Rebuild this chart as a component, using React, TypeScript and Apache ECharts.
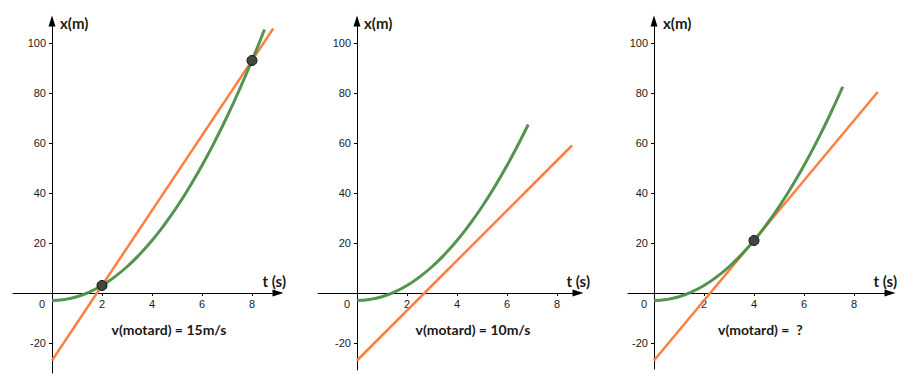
import React, { useEffect, useRef } from 'react';
import * as echarts from 'echarts';

// ---- data ----
const panelTitles = ['v(motard) = 15m/s', 'v(motard) = 10m/s', 'v(motard) =  ?'];
const xTickValues = [0, 2, 4, 6, 8];
const xTickMarks = [2, 4, 6, 8];
const yTickValues = [-20, 20, 40, 60, 80, 100];
const xAxisName = 't (s)';
const yAxisName = 'x(m)';

// green curve (car), t (s) -> x (m)
const carCurve1: number[][] = [
  [0, -3], [0.5, -2.6], [1, -1.5], [1.5, 0.4], [2, 3], [2.5, 6.4], [3, 10.5], [3.5, 15.4],
  [4, 21], [4.5, 27.4], [5, 34.5], [5.5, 42.4], [6, 51], [6.5, 60.4], [7, 70.5], [7.5, 81.4],
  [8, 93], [8.5, 105.4],
];
const carCurve2: number[][] = [
  [0, -3], [0.5, -2.6], [1, -1.5], [1.5, 0.4], [2, 3], [2.5, 6.4], [3, 10.5], [3.5, 15.4],
  [4, 21], [4.5, 27.4], [5, 34.5], [5.5, 42.4], [6, 51], [6.5, 60.4], [6.85, 67.4],
];
const carCurve3: number[][] = [
  [0, -3], [0.5, -2.6], [1, -1.5], [1.5, 0.4], [2, 3], [2.5, 6.4], [3, 10.5], [3.5, 15.4],
  [4, 21], [4.5, 27.4], [5, 34.5], [5.5, 42.4], [6, 51], [6.5, 60.4], [7, 70.5], [7.55, 82.5],
];
// orange line (motard)
const motoLine1: number[][] = [[0, -27], [8.85, 105.8]];
const motoLine2: number[][] = [[0, -27], [8.6, 59]];
const motoLine3: number[][] = [[0, -27], [8.95, 80.4]];
// marked points
const meetPoints1: number[][] = [[2, 3], [8, 93]];
const meetPoints2: number[][] = [];
const meetPoints3: number[][] = [[4, 21]];

// ---- layout ----
const grids = [
  { left: 13, top: 21, width: 265, height: 352 },
  { left: 318, top: 21, width: 260, height: 349 },
  { left: 628, top: 21, width: 262, height: 348 },
];
const xRanges = [[-1.56, 9.04], [-1.56, 8.84], [-1.04, 9.44]];
const yRanges = [[-32, 108.8], [-30.8, 108.8], [-30.4, 108.8]];
const xAxisOffsets = [-80, -77, -76];
const yAxisOffsets = [-39, -39, -26];
const xNameGaps = [8, 12, 7];
const yNamePads = [8, 7, 9];
const titlePos = [
  { x: 169, y: 329, align: 'center' },
  { x: 473, y: 329, align: 'center' },
  { x: 718, y: 329, align: 'left' },
];

const GREEN = '#4a8f45';
const ORANGE = '#ff7f40';
const TICK_FONT = '"Liberation Sans", Arial, sans-serif';
const BOLD_FONT = 'Lato, "Liberation Sans", Arial, sans-serif';

export default function App() {
  const ref = useRef<HTMLDivElement>(null);
  useEffect(() => {
    if (!ref.current) return;
    const chart = echarts.init(ref.current, undefined, { renderer: 'svg' });
    const cars = [carCurve1, carCurve2, carCurve3];
    const motos = [motoLine1, motoLine2, motoLine3];
    const meets = [meetPoints1, meetPoints2, meetPoints3];

    const xAxis = grids.map((_, i) => ({
      type: 'value',
      gridIndex: i,
      position: 'bottom',
      offset: xAxisOffsets[i],
      min: xRanges[i][0],
      max: xRanges[i][1],
      axisLine: {
        show: true,
        onZero: false,
        symbol: ['none', 'triangle'],
        symbolSize: [7, 11],
        lineStyle: { color: '#000', width: 1 },
      },
      axisTick: { show: true, length: 3, customValues: xTickMarks, lineStyle: { color: '#000' } },
      axisLabel: {
        customValues: xTickValues,
        margin: 5,
        fontSize: 11,
        color: '#1a1a1a',
        fontFamily: TICK_FONT,
        formatter: (v: number) => (v === 0 ? '{z|0}' : String(v)),
        rich: { z: { padding: [0, 20, 0, 0], fontSize: 11, color: '#1a1a1a', fontFamily: TICK_FONT } },
      },
      splitLine: { show: false },
      name: xAxisName,
      nameLocation: 'end',
      nameGap: xNameGaps[i],
      nameTextStyle: {
        align: 'right',
        verticalAlign: 'bottom',
        padding: [0, 0, 5, 0],
        fontWeight: 'bold',
        fontSize: 15,
        color: '#1a1a1a',
        fontFamily: BOLD_FONT,
      },
    }));

    const yAxis = grids.map((_, i) => ({
      type: 'value',
      gridIndex: i,
      position: 'left',
      offset: yAxisOffsets[i],
      min: yRanges[i][0],
      max: yRanges[i][1],
      axisLine: {
        show: true,
        onZero: false,
        symbol: ['none', 'triangle'],
        symbolSize: [7, 11],
        lineStyle: { color: '#000', width: 1 },
      },
      axisTick: { show: true, length: 3, customValues: yTickValues, lineStyle: { color: '#000' } },
      axisLabel: {
        customValues: yTickValues,
        margin: 6,
        fontSize: 11,
        color: '#1a1a1a',
        fontFamily: TICK_FONT,
      },
      splitLine: { show: false },
      name: yAxisName,
      nameLocation: 'end',
      nameGap: -2,
      nameTextStyle: {
        align: 'left',
        verticalAlign: 'middle',
        padding: [0, 0, 0, yNamePads[i]],
        fontWeight: 'bold',
        fontSize: 15,
        color: '#1a1a1a',
        fontFamily: BOLD_FONT,
      },
    }));

    const series: any[] = [];
    grids.forEach((_, i) => {
      series.push({
        type: 'line',
        xAxisIndex: i,
        yAxisIndex: i,
        data: motos[i],
        showSymbol: false,
        symbol: 'none',
        lineStyle: { color: ORANGE, width: 2.5 },
        z: 2,
      });
      series.push({
        type: 'line',
        xAxisIndex: i,
        yAxisIndex: i,
        data: cars[i],
        showSymbol: false,
        symbol: 'none',
        smooth: true,
        lineStyle: { color: GREEN, width: 3, opacity: 0.95 },
        z: 3,
      });
      series.push({
        type: 'scatter',
        xAxisIndex: i,
        yAxisIndex: i,
        data: meets[i],
        symbol: 'circle',
        symbolSize: 10,
        itemStyle: { color: '#444', borderColor: '#111', borderWidth: 1, opacity: 1 },
        z: 4,
      });
    });

    chart.setOption({
      animation: false,
      backgroundColor: '#fff',
      grid: grids.map((g) => ({ ...g, containLabel: false, outerBoundsMode: 'none' })),
      xAxis,
      yAxis,
      series,
      graphic: panelTitles.map((t, i) => ({
        type: 'text',
        x: titlePos[i].x,
        y: titlePos[i].y,
        style: {
          text: t,
          fill: '#1a1a1a',
          font: `bold 14px ${BOLD_FONT}`,
          align: titlePos[i].align,
          verticalAlign: 'middle',
        },
      })),
    });
    return () => chart.dispose();
  }, []);
  return (
    <div
      ref={ref}
      style={{ position: 'absolute', left: 0, top: 0, width: 913, height: 386, background: '#fff' }}
    />
  );
}
